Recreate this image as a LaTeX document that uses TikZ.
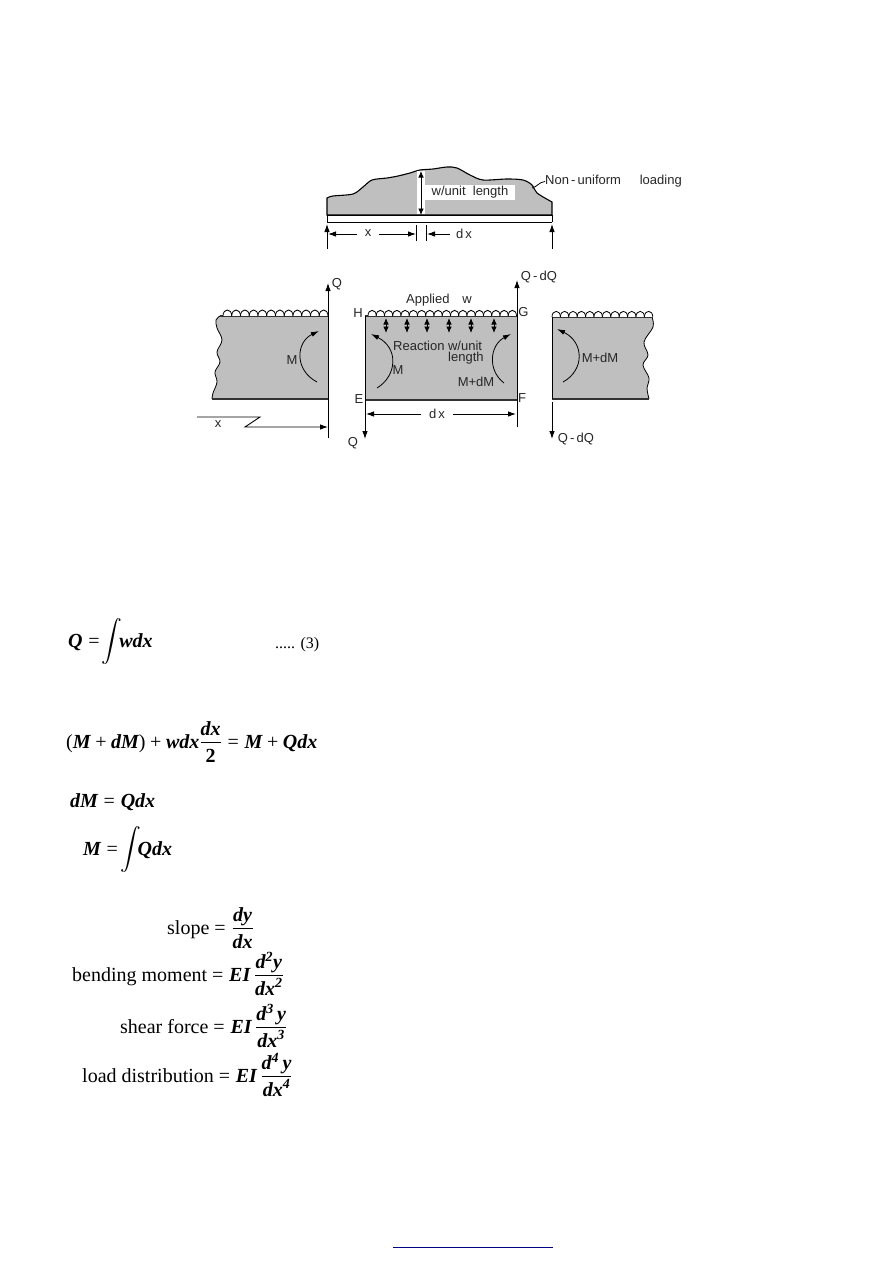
\documentclass[tikz,border=0pt]{standalone}
\usepackage{amsmath}
\usepackage{fontspec}
\setmainfont{Liberation Serif}
\newfontfamily\labelfont{Liberation Sans}
\usetikzlibrary{arrows.meta}
\newcommand{\bi}[1]{\mbox{\bfseries\itshape #1}}
\newcommand{\eqsign}{\mathrel{\mbox{=}}}
\newcommand{\plussign}{\mathbin{\mbox{+}}}
\newcommand{\eqfrac}[2]{\frac{\mbox{\rule[-6pt]{0pt}{6pt}#1}}{\mbox{\rule{0pt}{18pt}#2}}}
\tikzset{
	headarrow/.style={-{Latex[length=8pt,width=5.5pt]},line width=0.9pt},
	twoheads/.style={{Latex[length=6.5pt,width=5.5pt]}-{Latex[length=6.5pt,width=5.5pt]},line width=0.9pt},
	momentarc/.style={-{Latex[length=8pt,width=5pt]},line width=0.8pt},
	blockfill/.style={fill=black!25,draw=none},
	edgeline/.style={line width=1.1pt,black!80},
	lbl/.style={inner sep=0pt,font=\labelfont\fontsize{13}{15}\selectfont,text=black!85},
	eqn/.style={inner sep=0pt,anchor=base west,font=\fontsize{20}{24}\selectfont},
}
\begin{document}
\begin{tikzpicture}[x=1pt,y=-1pt]
		\useasboundingbox (0,0) rectangle (893,1263);
		% loaded beam
		\draw[fill=black!25,line width=1.1pt] plot[smooth,tension=0.5] coordinates {(327,198) (333,196) (353,194) (363,187) (372,180) (387,178) (398,176) (410,173) (420,170) (433,169) (447,167) (457,168) (470,175) (483,180) (507,179) (523,180) (532,185) (537,193) (552,202)} -- (552,215) -- (327,215) -- cycle;
		\fill[white] (417,171) rectangle (425,214);
		\node[lbl,fill=white,minimum width=90pt,minimum height=15pt] (wlabel) at (470,192) {w/unit\ \ length};
		\draw[twoheads] (421,171) -- (421,215);
		\draw[line width=1.4pt] (327,215.5) -- (552,215.5);
		\draw[line width=0.9pt] (327,222.5) -- (552,222.5);
		\draw[line width=0.9pt] (327,215) -- (327,222);
		\draw[line width=0.9pt] (552,215) -- (552,222);
		\draw[headarrow] (327,249) -- (327,224);
		\draw[headarrow] (552,249) -- (552,224);
		\node[lbl,anchor=west] (nonuniform) at (545,181.5) {Non\,-\,uniform\quad\ \,loading};
		\draw[line width=0.8pt] (532,188) .. controls (537,187) and (539,182) .. (nonuniform.west);
		\node[lbl] (xtop) at (368,233) {x};
		\node[lbl] (dxtop) at (464,234) {d\,x};
		\draw[headarrow] (xtop.west) ++(-8,1) -- (328,234);
		\draw[headarrow] (xtop.east) ++(8,1) -- (416,234);
		\draw[headarrow] (dxtop.west) ++(-6,0) -- (427,234);
		\draw[line width=0.7pt] (416,225) -- (416,241);
		\draw[line width=0.7pt] (426,225) -- (426,241);
		% left block
		\path[blockfill] plot[smooth,tension=0.6] coordinates {(220,316) (216,320) (217,328) (222,340) (217,352) (220,362) (215,372) (217,382) (213,393) (212,399)} -- (328,399) -- (328,316) -- cycle;
		\draw[line width=0.8pt] plot[smooth,tension=0.6] coordinates {(220,316) (216,320) (217,328) (222,340) (217,352) (220,362) (215,372) (217,382) (213,393) (212,399)};
		\draw[edgeline] (220,316) -- (328,316);
		\draw[edgeline] (212,399) -- (328,399);
		\foreach \i in {0,...,11}
			\draw[line width=0.8pt,fill=white] ({223+8.75*\i},316) .. controls ({223+8.75*\i},308) and ({231.75+8.75*\i},308) .. ({231.75+8.75*\i},316);
		\draw[headarrow] (328,438) -- (328,283);
		\node[lbl] (qleft) at (337,284) {Q};
		\draw[momentarc] (317,382) .. controls (294,370) and (296,342) .. (319,331);
		\node[lbl] (mleft) at (292,360) {M};
		\draw[headarrow] (197,417) -- (260,417) -- (245,427) -- (328,427);
		\node[lbl] (xbottom) at (218,424) {x};
		% middle block
		\path[blockfill] (365,316) rectangle (517,400);
		\draw[edgeline] (365,316) -- (517,316);
		\draw[edgeline] (365,400) -- (517,400);
		\foreach \i in {0,...,17}
			\draw[line width=0.8pt,fill=white] ({368+8.25*\i},316) .. controls ({368+8.25*\i},308.5) and ({376.25+8.25*\i},308.5) .. ({376.25+8.25*\i},316);
		\foreach \xpos in {386,407,427,449,471,494}
			\draw[twoheads] (\xpos,318) -- (\xpos,333);
		\draw[line width=0.8pt] (365,316) -- (365,400);
		\draw[headarrow] (365,400) -- (365,439);
		\draw[line width=0.8pt] (517,400) -- (517,427);
		\draw[headarrow] (517,400) -- (517,280);
		\node[lbl] (applied) at (439,300) {Applied\quad w};
		\node[lbl] (corner h) at (358,313) {H};
		\node[lbl] (corner g) at (523.5,312) {G};
		\node[lbl] (corner e) at (359,399) {E};
		\node[lbl] (corner f) at (522,398) {F};
		\node[lbl] (qmid) at (353,443) {Q};
		\node[lbl] (dqmid) at (539,277) {Q\,-\,dQ};
		\node[lbl,anchor=west] (reaction) at (393,345.5) {Reaction w/unit};
		\node[lbl,anchor=west] (length) at (448,358) {length};
		\node[lbl] (mmid) at (398,370) {M};
		\node[lbl] (mdmid) at (476,382) {M+dM};
		\node[lbl] (dxmid) at (437,414) {d\,x};
		\draw[headarrow] (dxmid.west) ++(-8,0) -- (366,414);
		\draw[headarrow] (dxmid.east) ++(8,0) -- (516,414);
		\draw[momentarc] (377,388) .. controls (397,376) and (399,348) .. (371,334);
		\draw[momentarc] (504,383) .. controls (487,370) and (490,345) .. (511,334);
		% right block
		\path[blockfill] (552,317) -- (652,317) -- plot[smooth,tension=0.6] coordinates {(652,317) (653,327) (644,342) (648,355) (643,365) (649,378) (647,388) (649,399)} -- (552,399) -- cycle;
		\draw[line width=0.8pt] plot[smooth,tension=0.6] coordinates {(652,317) (653,327) (644,342) (648,355) (643,365) (649,378) (647,388) (649,399)};
		\draw[edgeline] (552,317) -- (652,317);
		\draw[edgeline] (552,399) -- (649,399);
		\draw[line width=0.8pt] (552,317) -- (552,399);
		\foreach \i in {0,...,11}
			\draw[line width=0.8pt,fill=white] ({552+8.4*\i},317) .. controls ({552+8.4*\i},309.5) and ({560.4+8.4*\i},309.5) .. ({560.4+8.4*\i},317);
		\draw[headarrow] (552,402) -- (552,439);
		\node[lbl] (dqright) at (576,439) {Q\,-\,dQ};
		\node[lbl] (mdright) at (600,358) {M+dM};
		\draw[momentarc] (563,382) .. controls (585,370) and (584,342) .. (557,329);
		% equations
		\node[eqn] (eqshear) at (68,647) {$\bi{Q}\eqsign\!\displaystyle\int\!\!\bi{wdx}$};
		\node[eqn,font=\fontsize{16}{20}\selectfont] (eqnum) at (275,648) {..... (3)};
		\node[eqn] (eqbalance) at (66,748) {$\mbox{(}\bi{M}\plussign\bi{dM}\mbox{)}\plussign\bi{wdx}\eqfrac{\bi{dx}}{\bfseries 2}\eqsign\bi{M}\plussign\bi{Qdx}$};
		\node[eqn] (eqdm) at (70,807) {$\bi{dM}\eqsign\bi{Qdx}$};
		\node[eqn] (eqm) at (83,855) {$\bi{M}\eqsign\!\displaystyle\int\!\!\bi{Qdx}$};
		\node[eqn] (eqslope) at (167,934) {slope $\eqsign\eqfrac{\bi{dy}}{\bi{dx}}$};
		\node[eqn] (eqbending) at (72,981) {bending moment $\eqsign\bi{EI}\,\eqfrac{\bi{d\textsuperscript{2}y}}{\bi{dx\textsuperscript{2}}}$};
		\node[eqn] (eqforce) at (120,1033) {shear force $\eqsign\bi{EI}\,\eqfrac{\bi{d\textsuperscript{3}\,y}}{\bi{dx\textsuperscript{3}}}$};
		\node[eqn] (eqload) at (82,1082) {load distribution $\eqsign\bi{EI}\,\eqfrac{\bi{d\textsuperscript{4}\,y}}{\bi{dx\textsuperscript{4}}}$};
		% link line
		\draw[color=blue!50!black,line width=1pt] (393,1247) -- (553,1247);
	\end{tikzpicture}
\end{document}
